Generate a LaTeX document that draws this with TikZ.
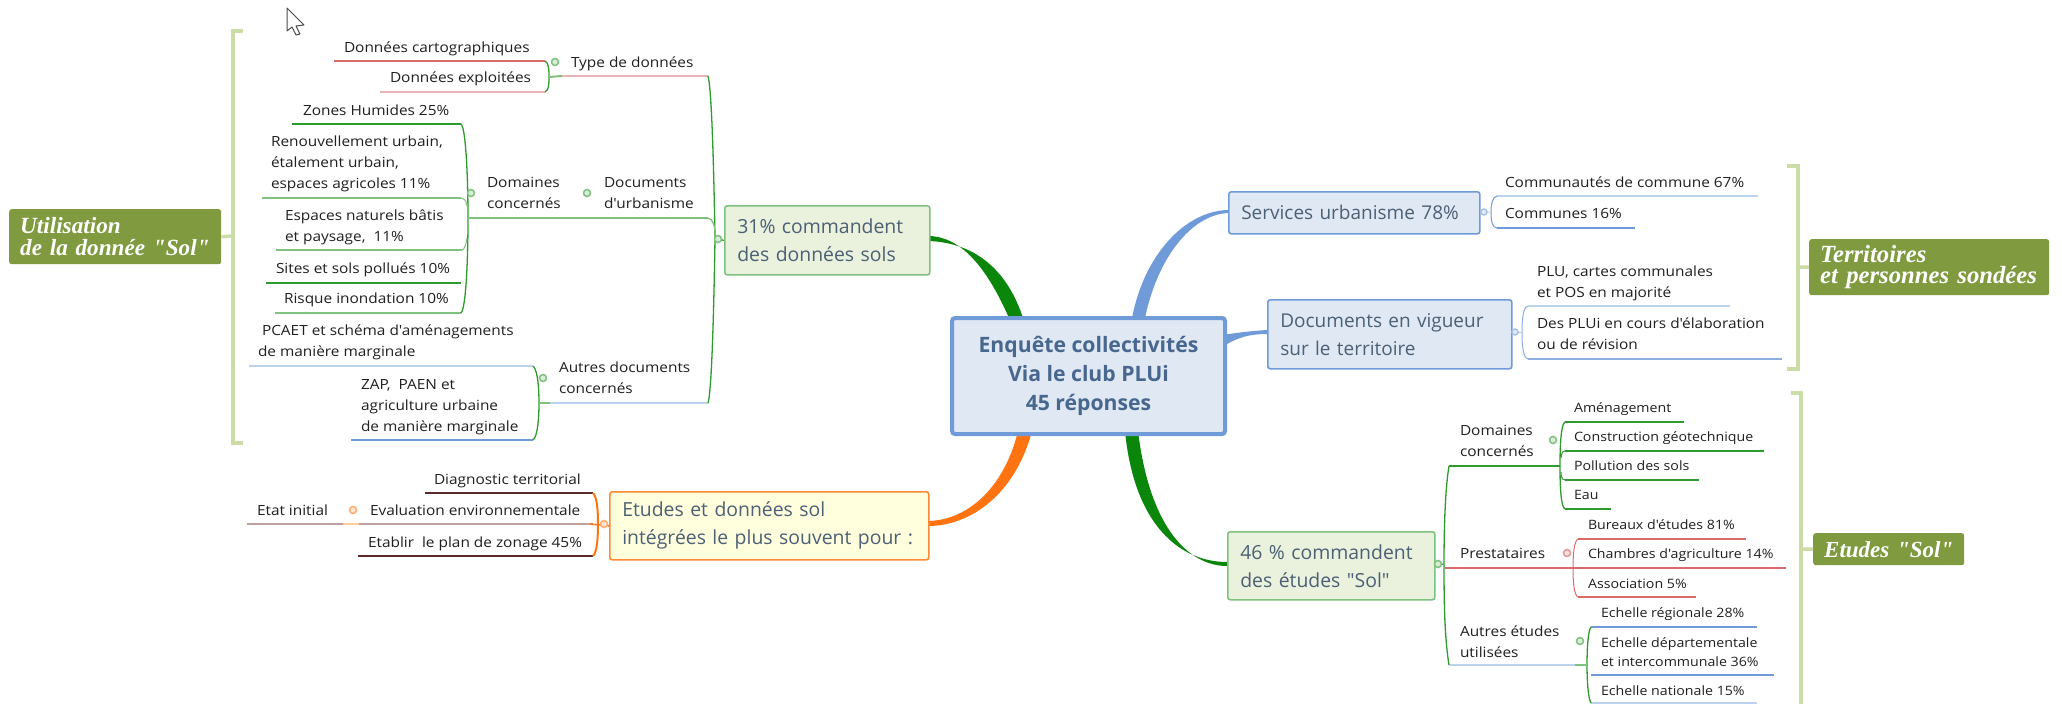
\documentclass[tikz,border=0pt]{standalone}
\usepackage{fontspec}
\newfontfamily\boxf{Open Sans}
\newfontfamily\leaff{Open Sans}[FakeStretch=1.1]
\newfontfamily\labfont{Liberation Serif}
\definecolor{txt}{HTML}{202020}
\definecolor{boxtxt}{HTML}{4C6076}
\definecolor{ctxt}{HTML}{47678F}
\definecolor{dgr}{HTML}{2E9B2E}
\definecolor{lgr}{HTML}{7FC17F}
\definecolor{linkgr}{HTML}{0A860A}
\definecolor{lrd}{HTML}{EBB4B4}
\definecolor{rd}{HTML}{D96A6A}
\definecolor{lbl}{HTML}{BCD3EE}
\definecolor{bl}{HTML}{6F9BD8}
\definecolor{dmr}{HTML}{5A2A2A}
\definecolor{lmr}{HTML}{C0A0A0}
\definecolor{org}{HTML}{FF7410}
\definecolor{labbg}{HTML}{7F9A3F}
\definecolor{brk}{HTML}{CBDCA6}
\definecolor{cfill}{HTML}{DFE8F3}
\definecolor{gfill}{HTML}{EAF1DD}
\definecolor{yfill}{HTML}{FFFFDD}
\tikzset{
  leaf/.style={anchor=base west,inner sep=0pt,outer sep=0pt,align=left,text=txt,
    font=\leaff\fontsize{14}{21}\selectfont},
  sleaf/.style={leaf,font=\leaff\fontsize{12.9}{19}\selectfont},
  mbox/.style={anchor=north west,rounded corners=2.5pt,inner ysep=0pt,inner xsep=12.5pt,
    align=left,text=boxtxt,font=\boxf\fontsize{19}{28}\selectfont,line width=1.6pt},
  gbox/.style={mbox,font=\boxf\fontsize{19.4}{28}\selectfont},
  label/.style={anchor=north west,fill=labbg,rounded corners=2.5pt,inner ysep=0pt,inner xsep=11pt,
    align=left,text=white},
  dot/.style={circle,draw=#1,fill=white!70!#1,line width=1.5pt,inner sep=0pt,minimum size=7pt},
  thinl/.style={line width=1.2pt},
  thickl/.style={line width=1.6pt},
  branch/.style={line width=1.3pt,draw=#1},
  brack/.style={draw=brk,line width=3.5pt}
}
\newcommand{\labsize}[1]{\labfont\bfseries\itshape\fontsize{#1}{21.5}\selectfont}
\newcommand{\ul}[5]{\coordinate (#1a) at (#2,#4); \coordinate (#1b) at (#3,#4); \draw[#5] (#1a) -- (#1b);}
\begin{document}
\begin{tikzpicture}[x=1pt,y=-1pt]
\useasboundingbox[fill=white] (0,0) rectangle (2062,704);

% links under the boxes
\coordinate (L1a) at (929,241); \coordinate (L1b) at (1023,318); \coordinate (L1c) at (1009,318);
\fill[linkgr] (L1a) .. controls (977,243) and (1008,272) .. (L1b) -- (L1c) .. controls (993,282) and (968,237) .. (929,236) -- cycle;
\coordinate (L2a) at (1228,213); \coordinate (L2b) at (1145,318); \coordinate (L2c) at (1132,318);
\fill[bl] (L2a) .. controls (1190,215) and (1157,260) .. (L2b) -- (L2c) .. controls (1144,255) and (1185,211) .. (1228,210) -- cycle;
\coordinate (L3a) at (1267,334); \coordinate (L3b) at (1222,347); \coordinate (L3c) at (1222,335);
\fill[bl] (L3a) .. controls (1250,334) and (1238,337) .. (L3b) -- (L3c) .. controls (1236,333) and (1250,331) .. (1267,330) -- cycle;
\coordinate (L4a) at (928,526); \coordinate (L4b) at (1032,431); \coordinate (L4c) at (1018,431);
\fill[org] (L4a) .. controls (970,526) and (1015,495) .. (L4b) -- (L4c) .. controls (1005,485) and (970,520) .. (928,521) -- cycle;
\coordinate (L5a) at (1227,566); \coordinate (L5b) at (1125,431); \coordinate (L5c) at (1138,431);
\fill[linkgr] (L5a) .. controls (1190,566) and (1150,530) .. (L5c) -- (L5b) .. controls (1134,525) and (1180,562) .. (1227,562) -- cycle;

% central and main boxes
\node[anchor=north west,draw=bl,fill=cfill,line width=4pt,rounded corners=3pt,minimum width=273pt,minimum height=116pt,
  align=center,text=ctxt,inner sep=0pt,font=\boxf\bfseries\fontsize{21.2}{29}\selectfont] (central) at (950,316)
  {Enquête collectivités\\Via le club PLUi\\45 réponses};
\node[gbox,draw=lgr,fill=gfill,minimum width=205pt,minimum height=69pt,text width=180pt] (bg) at (724,205) {31\% commandent\\des données sols};
\node[gbox,draw=org!85,fill=yfill,minimum width=319pt,minimum height=68pt,text width=294pt] (by) at (609,491) {Etudes et données sol\\intégrées le plus souvent pour :};
\node[mbox,draw=bl,fill=cfill,minimum width=251pt,minimum height=42pt,text width=226pt] (bs) at (1228,191) {Services urbanisme 78\%};
\node[mbox,draw=bl,fill=cfill,minimum width=244pt,minimum height=69pt,text width=219pt] (bd) at (1267,299) {Documents en vigueur\\sur le territoire};
\node[gbox,draw=lgr,fill=gfill,minimum width=207pt,minimum height=68pt,text width=182pt] (be) at (1227,531) {46 \% commandent\\des études "Sol"};

% ===== top-left: Type de données
\ul{dc}{334}{545}{61}{rd,thickl}
\ul{de}{380}{545}{92}{lrd,thinl}
\node[leaf] (tdc) at (344,52) {Données cartographiques};
\node[leaf] (tde) at (390,82) {Données exploitées};
\coordinate (thub) at (549,77);
\draw[branch=dgr] (dcb) .. controls (549,63) and (549,70) .. (thub) .. controls (549,84) and (549,90) .. (deb);
\ul{ty}{562}{708}{76}{lrd,thinl}
\draw[lgr,line width=2pt] (thub) -- (tya);
\node[leaf] (ttype) at (571,67) {Type de données};
\node[dot=lgr] (d1) at (555,62) {};

% ===== Domaines concernés
\ul{zh}{292}{461}{124}{dgr,thickl}
\ul{ru}{262}{461}{198}{lgr,thinl}
\ul{en}{276}{462}{250}{lgr,thinl}
\ul{si}{266}{461}{283}{dgr,thickl}
\ul{ri}{275}{461}{313}{lgr,thinl}
\node[leaf] (tzh) at (303,115) {Zones Humides 25\%};
\node[leaf] (tru) at (271,188) {Renouvellement urbain,\\étalement urbain,\\espaces agricoles 11\%};
\node[leaf] (ten) at (285,241) {Espaces naturels bâtis\\et paysage,\ \ 11\%};
\node[leaf] (tsi) at (276,273) {Sites et sols pollués 10\%};
\node[leaf] (tri) at (284,303) {Risque inondation 10\%};
\coordinate (dhub) at (468,218);
\draw[branch=dgr] (zhb) .. controls (466,128) and (468,180) .. (dhub) .. controls (468,260) and (466,308) .. (rib);
\draw[lgr,line width=1pt] (rub) .. controls (464,198) and (466,200) .. (467,206);
\draw[lgr,line width=1pt] (enb) .. controls (464,250) and (466,245) .. (467,238);
\coordinate (dcr) at (708,218);
\draw[lgr,line width=1.3pt] (dhub) -- (dcr);
\draw[lgr,line width=2pt] (577,218) -- (595,218);
\draw[lgr,line width=2pt] (468,218) -- (480,218);
\node[leaf] (tdo) at (487,208) {Domaines\\concernés};
\node[leaf] (tdu) at (604,208) {Documents\\d'urbanisme};
\node[dot=lgr] (d2) at (471,193) {};
\node[dot=lgr] (d3) at (587,193) {};

% ===== Autres documents
\ul{pc}{249}{533}{366}{lbl,thinl}
\ul{za}{351}{533}{440}{bl,thickl}
\node[leaf] (tpc) at (258,356) {\hspace*{4pt}PCAET et schéma d'aménagements\\de manière marginale};
\node[leaf] (tza) at (361,431) {ZAP,\ \ PAEN et\\agriculture urbaine\\de manière marginale};
\coordinate (ahub) at (539,403);
\draw[branch=dgr] (pcb) .. controls (538,370) and (539,390) .. (ahub) .. controls (539,416) and (538,436) .. (zab);
\ul{au}{550}{708}{403}{lbl,thinl}
\draw[lgr,line width=2pt] (ahub) -- (aua);
\node[leaf] (tau) at (559,393) {Autres documents\\concernés};
\node[dot=lgr] (d4) at (543,378) {};

% ===== big left branch
\draw[branch=dgr] (tyb) .. controls (712,90) and (714,180) .. (715,239) .. controls (714,300) and (712,390) .. (aub);
\draw[lgr,line width=1.3pt] (dcr) .. controls (713,219) and (715,226) .. (715,234);
\draw[dgr,line width=1.3pt] (715,239) -- (bg.west);
\node[dot=lgr] (d5) at (718,239) {};

% ===== orange side
\ul{di}{425}{593}{493}{dmr,thickl}
\ul{ev}{247}{593}{524}{lmr,thinl}
\ul{et}{358}{593}{556}{dmr,thickl}
\draw[orange!40,line width=1.5pt] (343,524) -- (359,524);
\node[leaf] (tdi) at (434,484) {Diagnostic territorial};
\node[leaf] (tev) at (370,515) {Evaluation environnementale};
\node[leaf] (tet) at (368,547) {Etablir\ \ le plan de zonage 45\%};
\node[leaf] (tei) at (257,515) {Etat initial};
\coordinate (ohub) at (598,524);
\draw[org,line width=2pt] (dib) .. controls (597,497) and (598,510) .. (ohub) .. controls (598,538) and (597,552) .. (etb);
\draw[org,line width=1.5pt] (590,524) -- (by.west);
\node[dot=org!60] (d6) at (353,510) {};
\node[dot=org!60] (d7) at (604,524) {};

% ===== right top
\ul{co}{1497}{1758}{196}{lbl,thinl}
\ul{cm}{1497}{1635}{228}{bl,thinl}
\node[leaf] (tco) at (1505,187) {Communautés de commune 67\%};
\node[leaf] (tcm) at (1505,218) {Communes 16\%};
\coordinate (shub) at (1491,212);
\draw[bl,line width=1pt] (coa) .. controls (1492,197) and (1491,205) .. (shub) .. controls (1491,220) and (1492,228) .. (cma);
\draw[lbl,line width=1pt] (bs.east) -- (shub);
\node[dot=bl!60,minimum size=6pt] (d8) at (1484,212) {};

\ul{pl}{1528}{1730}{306}{lbl,thinl}
\ul{dp}{1528}{1782}{359}{bl!80,thinl}
\node[leaf] (tpl) at (1537,297) {PLU, cartes communales\\et POS en majorité};
\node[leaf] (tdp) at (1537,349) {Des PLUi en cours d'élaboration\\ou de révision};
\coordinate (phub) at (1522,332);
\draw[bl!80,line width=1pt] (pla) .. controls (1523,307) and (1522,320) .. (phub) .. controls (1522,345) and (1523,358) .. (dpa);
\draw[lbl,line width=1pt] (bd.east) -- (phub);
\node[dot=bl!60,minimum size=6pt] (d9) at (1515,332) {};

% ===== right bottom: Domaines
\ul{am}{1565}{1684}{422}{dgr,thickl}
\ul{cg}{1565}{1764}{451}{dgr,thickl}
\ul{po}{1565}{1699}{480}{dgr,thickl}
\ul{ea}{1565}{1611}{509}{dgr,thickl}
\node[sleaf] (tam) at (1574,412) {Aménagement};
\node[sleaf] (tcg) at (1574,441) {Construction géotechnique};
\node[sleaf] (tpo) at (1574,470) {Pollution des sols};
\node[sleaf] (tea) at (1574,499) {Eau};
\coordinate (rh1) at (1560,466);
\draw[branch=dgr] (ama) .. controls (1561,424) and (1560,445) .. (rh1) .. controls (1560,488) and (1561,507) .. (eaa);
\draw[dgr,line width=1pt] (cga) .. controls (1562,451) and (1561,455) .. (1561,458);
\draw[dgr,line width=1pt] (poa) .. controls (1562,480) and (1561,476) .. (1561,472);
\coordinate (rd1) at (1449,466);
\draw[dgr,line width=1.4pt] (rd1) -- (rh1);
\node[leaf] (tdo2) at (1460,456) {Domaines\\concernés};
\node[dot=lgr] (d10) at (1553,440) {};

% Prestataires
\ul{bu}{1578}{1746}{539}{rd,thinl}
\ul{ch}{1445}{1786}{568}{rd,thickl}
\ul{as}{1578}{1696}{597}{rd,thickl}
\node[sleaf] (tbu) at (1588,529) {Bureaux d'études 81\%};
\node[sleaf] (tch) at (1588,558) {Chambres d'agriculture 14\%};
\node[sleaf] (tas) at (1588,588) {Association 5\%};
\node[leaf] (tpr) at (1460,558) {Prestataires};
\coordinate (rh2) at (1573,568);
\draw[rd,line width=1pt] (bua) .. controls (1574,541) and (1573,555) .. (rh2) .. controls (1573,582) and (1574,595) .. (asa);
\node[dot=rd!70] (d11) at (1567,553) {};

% Autres études
\ul{er}{1591}{1757}{627}{bl,thickl}
\ul{ed}{1591}{1774}{675}{bl,thickl}
\ul{na}{1591}{1757}{703}{lbl,thickl}
\node[sleaf] (ter) at (1601,617) {Echelle régionale 28\%};
\node[sleaf] (ted) at (1601,666) {Echelle départementale\\et intercommunale 36\%};
\node[sleaf] (tna) at (1601,695) {Echelle nationale 15\%};
\coordinate (rh3) at (1587,665);
\draw[branch=dgr] (era) .. controls (1588,630) and (1587,650) .. (rh3) .. controls (1587,680) and (1588,698) .. (naa);
\coordinate (rd3) at (1449,665);
\draw[lbl,line width=1.4pt] (rd3) -- (rh3);
\draw[lgr,line width=2pt] (1575,665) -- (rh3);
\node[leaf] (tau2) at (1460,657) {Autres études\\utilisées};
\node[dot=lgr] (d12) at (1580,641) {};

% spine
\draw[branch=dgr] (rd1) .. controls (1445,490) and (1444,530) .. (1444,565) .. controls (1444,610) and (1445,640) .. (rd3);
\draw[dgr,line width=1.2pt] (be.east) -- (1444,564);
\node[dot=lgr] (d13) at (1438,564) {};

% ===== summary brackets and labels
\node[label,minimum width=212pt,minimum height=55pt,text width=190pt,font=\labsize{23.2}] (lab1) at (9,209) {Utilisation\\\mbox{de la donnée "Sol"}};
\coordinate (b1t) at (243,31); \coordinate (b1m) at (233,236); \coordinate (b1b) at (243,443);
\draw[brack] (b1t) -- (233,31) -- (233,443) -- (b1b);
\draw[brack] (b1m) -- (lab1.east);
\node[label,minimum width=240pt,minimum height=56pt,text width=218pt,font=\labsize{24.7}] (lab2) at (1809,239) {Territoires\\\mbox{et personnes sondées}};
\coordinate (b2t) at (1787,166); \coordinate (b2m) at (1798,267); \coordinate (b2b) at (1787,369);
\draw[brack] (b2t) -- (1798,166) -- (1798,369) -- (b2b);
\draw[brack] (b2m) -- (lab2.west);
\node[label,minimum width=151pt,minimum height=32pt,text width=129pt,font=\labsize{23}] (lab3) at (1813,533) {\mbox{Etudes "Sol"}};
\coordinate (b3t) at (1791,393); \coordinate (b3m) at (1801,549); \coordinate (b3b) at (1801,706);
\draw[brack] (b3t) -- (1801,393) -- (b3b);
\draw[brack] (b3m) -- (lab3.west);

% mouse pointer
\draw[fill=white,draw=black!70,line width=1pt,line join=round] (287,8) -- (287,31) -- (292,27) -- (296,35) -- (300,34) -- (296,26) -- (304,25) -- cycle;
\end{tikzpicture}
\end{document}
